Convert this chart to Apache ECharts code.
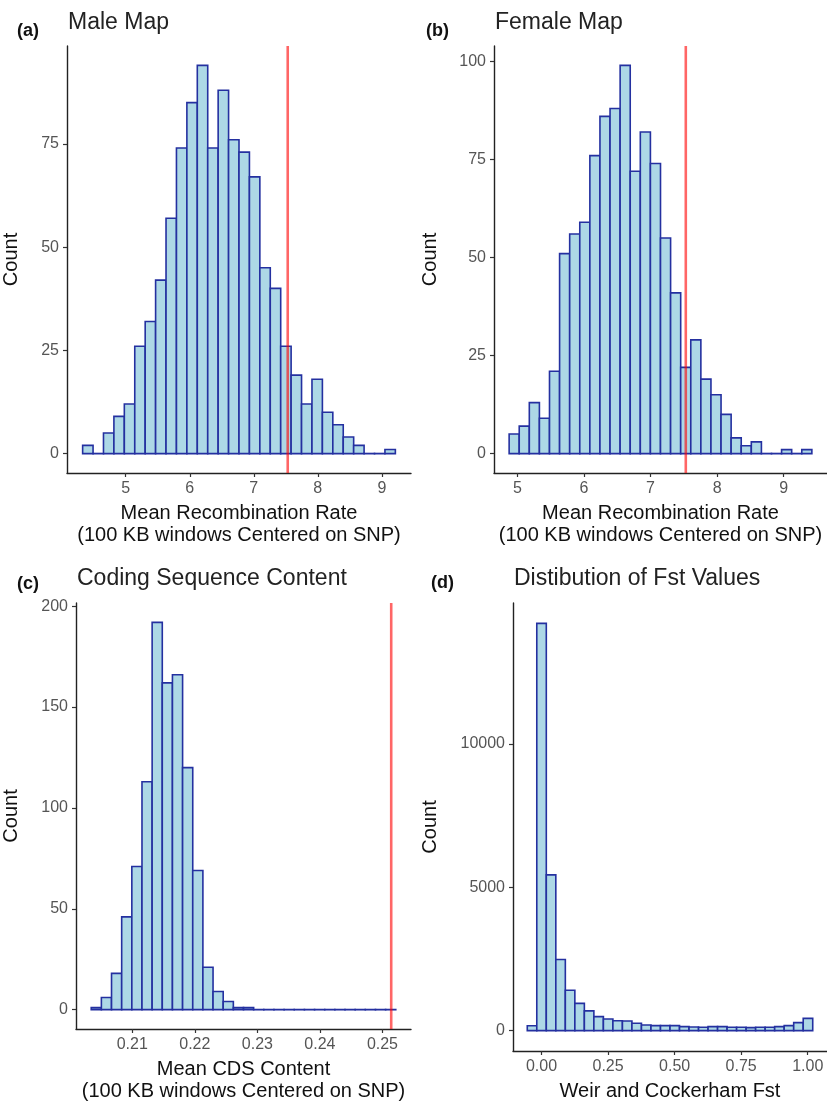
<!DOCTYPE html>
<html>
<head>
<meta charset="utf-8">
<script src="https://cdn.jsdelivr.net/npm/echarts@6/dist/echarts.min.js"></script>
<style>
html,body{margin:0;padding:0;background:#fff;}
#chart{width:827px;height:1103px;}
</style>
</head>
<body>
<div id="chart"></div>
<script>
// ---- Panel (a) Male Map ----
const maleBinStart = 4.327;
const maleBinWidth = 0.1628;
const maleCounts = [2,0,5,9,12,26,32,42,57,74,85,94,74,88,76,73,67,45,40,26,19,12,18,10,7,4,2,0,0,1];
const maleTicks = [5,6,7,8,9];
const maleYTicks = [0,25,50,75];
const maleObserved = 7.53;

// ---- Panel (b) Female Map ----
const femaleBinStart = 4.876;
const femaleBinWidth = 0.1516;
const femaleCounts = [5,7,13,9,21,51,56,59,76,86,88,99,72,82,74,55,41,22,29,19,15,10,4,2,3,0,0,1,0,1];
const femaleTicks = [5,6,7,8,9];
const femaleYTicks = [0,25,50,75,100];
const femaleObserved = 7.53;

// ---- Panel (c) Coding Sequence Content ----
const cdsBinStart = 0.20344;
const cdsBinWidth = 0.001623;
const cdsCounts = [1,6,18,46,71,113,192,162,166,120,69,21,9,4,1,1,0,0,0,0,0,0,0,0,0,0,0,0,0,0];
const cdsTicks = [0.21,0.22,0.23,0.24,0.25];
const cdsYTicks = [0,50,100,150,200];
const cdsObserved = 0.2514;

// ---- Panel (d) Fst ----
const fstBinStart = -0.0535;
const fstBinWidth = 0.03574;
const fstCounts = [170,14200,5430,2480,1410,950,690,490,405,347,336,255,197,174,174,174,139,127,116,139,139,116,116,104,116,116,139,174,278,428];
const fstTicks = [0,0.25,0.5,0.75,1];
const fstYTicks = [0,5000,10000];

const panelLabels = ['(a)','(b)','(c)','(d)'];
const panelTitles = ['Male Map','Female Map','Coding Sequence Content','Distibution of Fst Values'];
const xTitles = ['Mean Recombination Rate\n(100 KB windows Centered on SNP)','Mean Recombination Rate\n(100 KB windows Centered on SNP)','Mean CDS Content\n(100 KB windows Centered on SNP)','Weir and Cockerham Fst'];
const yTitle = 'Count';

const FONT = '"Liberation Sans", Arial, Helvetica, sans-serif';
const FILL = '#ADD8E6';
const STROKE = '#2430a0';
const RED = 'rgba(255,0,0,0.6)';

function bins(start, width, counts){
  return counts.map((c,i)=>[start+i*width, start+(i+1)*width, c]);
}
function yRange(counts){
  const m = Math.max.apply(null, counts);
  return [-0.05*m, 1.05*m];
}
function xRange(start,width,n){
  const lo = start, hi = start+n*width, e = 0.05*(hi-lo);
  return [lo-e, hi+e];
}

const panels = [
  {start:maleBinStart,width:maleBinWidth,counts:maleCounts,xt:maleTicks,yt:maleYTicks,obs:maleObserved,grid:{left:67,top:46,width:344,height:427},fmt:v=>String(v),yGap:46},
  {start:femaleBinStart,width:femaleBinWidth,counts:femaleCounts,xt:femaleTicks,yt:femaleYTicks,obs:femaleObserved,grid:{left:494,top:46,width:336,height:427},fmt:v=>String(v),yGap:54},
  {start:cdsBinStart,width:cdsBinWidth,counts:cdsCounts,xt:cdsTicks,yt:cdsYTicks,obs:cdsObserved,grid:{left:76,top:603,width:335,height:428},fmt:v=>v.toFixed(2),yGap:55},
  {start:fstBinStart,width:fstBinWidth,counts:fstCounts,xt:fstTicks,yt:fstYTicks,obs:null,grid:{left:513,top:603,width:317,height:450},fmt:v=>v.toFixed(2),yGap:73}
];

const grids=[], xAxes=[], yAxes=[], series=[];
panels.forEach((p,i)=>{
  grids.push(Object.assign({containLabel:false},p.grid));
  const xr = xRange(p.start,p.width,p.counts.length);
  const yr = yRange(p.counts);
  const axisLine = {show:true,onZero:false,lineStyle:{color:'#222',width:1.4}};
  const axisTick = {show:true,length:4,lineStyle:{color:'#333',width:1.2}};
  xAxes.push({
    type:'value', gridIndex:i, min:xr[0], max:xr[1],
    axisLine:axisLine,
    axisTick:Object.assign({customValues:p.xt},axisTick),
    axisLabel:{customValues:p.xt,formatter:p.fmt,color:'#555',fontSize:16,fontFamily:FONT,margin:8},
    splitLine:{show:false},
    name:xTitles[i], nameLocation:'middle', nameGap:29,
    nameTextStyle:{color:'#111',fontSize:20,fontFamily:FONT,lineHeight:22}
  });
  yAxes.push({
    type:'value', gridIndex:i, min:yr[0], max:yr[1],
    axisLine:axisLine,
    axisTick:Object.assign({customValues:p.yt},axisTick),
    axisLabel:{customValues:p.yt,formatter:v=>String(Math.round(v)),color:'#555',fontSize:16,fontFamily:FONT,margin:8},
    splitLine:{show:false},
    name:yTitle, nameLocation:'middle', nameGap:p.yGap, nameRotate:90,
    nameTextStyle:{color:'#111',fontSize:20,fontFamily:FONT}
  });
  series.push({
    type:'custom', xAxisIndex:i, yAxisIndex:i,
    data:bins(p.start,p.width,p.counts),
    encode:{x:[0,1],y:2},
    renderItem:function(params,api){
      const x0 = api.value(0), x1 = api.value(1), c = api.value(2);
      const a = api.coord([x0, c]);
      const b = api.coord([x1, 0]);
      if (!(c > 0)) {
        return {type:'rect', shape:{x:a[0]-0.8,y:b[1]-0.9,width:b[0]-a[0]+1.6,height:1.8},
          style:{fill:STROKE}};
      }
      return {type:'rect', shape:{x:a[0],y:a[1],width:b[0]-a[0],height:b[1]-a[1]},
        style:{fill:FILL,stroke:STROKE,lineWidth:1.6}};
    },
    silent:true, animation:false
  });
  if(p.obs!==null){
    series.push({
      type:'line', xAxisIndex:i, yAxisIndex:i,
      data:[[p.obs,yr[0]],[p.obs,yr[1]]],
      symbol:'none', lineStyle:{color:RED,width:2.6},
      silent:true, animation:false, z:5
    });
  }
});

const labelPos = [[17,31],[426,31],[17,584],[431,583]];
const titlePos = [[68,23],[495,23],[77,579],[514,579]];
const graphics = [];
labelPos.forEach((pt,i)=>{
  graphics.push({type:'text',x:pt[0],y:pt[1],style:{text:panelLabels[i],font:'bold 18px '+FONT,fill:'#111',textVerticalAlign:'middle'}});
  graphics.push({type:'text',x:titlePos[i][0],y:titlePos[i][1],style:{text:panelTitles[i],font:'23px '+FONT,fill:'#222',textVerticalAlign:'middle'}});
});

const chart = echarts.init(document.getElementById('chart'),null,{renderer:'canvas'});
chart.setOption({
  animation:false,
  backgroundColor:'#fff',
  grid:grids, xAxis:xAxes, yAxis:yAxes, series:series,
  graphic:graphics
});
</script>
</body>
</html>
